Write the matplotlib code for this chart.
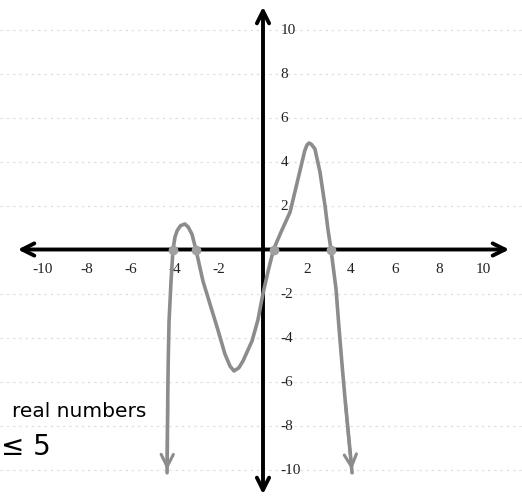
import matplotlib
matplotlib.use("Agg")
import matplotlib.pyplot as plt

# curve (x, y in graph units), left arrow end -> right arrow end
curve_x = [-4.36, -4.33, -4.31, -4.27, -4.18, -4.09, -4.0, -3.9, -3.75, -3.55,
           -3.4, -3.23, -3.05, -2.73, -2.41, -2.09, -1.73, -1.5, -1.32, -1.1,
           -0.91, -0.5, -0.23, 0.0, 0.24, 0.48, 0.8, 1.23, 1.59, 1.9, 2.0,
           2.09, 2.2, 2.36, 2.59, 2.82, 2.95, 3.09, 3.32, 3.45, 3.59, 3.73, 4.05]
curve_y = [-10.15, -6.8, -5.2, -3.25, -1.43, 0.0, 0.57, 0.86, 1.08, 1.16,
           1.02, 0.7, 0.0, -1.43, -2.48, -3.52, -4.75, -5.3, -5.52, -5.38,
           -5.07, -4.16, -3.2, -2.0, -0.95, 0.0, 0.75, 1.7, 3.2, 4.5, 4.75,
           4.84, 4.78, 4.57, 3.52, 1.98, 0.93, 0.0, -1.8, -3.5, -5.2, -6.8, -10.15]
zeros_x = [-4.09, -3.05, 0.48, 3.09]

x_ticks = [-10, -8, -6, -4, -2, 2, 4, 6, 8, 10]
y_ticks = [10, 8, 6, 4, 2, -2, -4, -6, -8, -10]

px = 22.0  # pixels per unit
ox, oy = 263, 250.5

fig = plt.figure(figsize=(5.22, 5.02), dpi=100)
ax = fig.add_axes([0, 0, 1, 1])
ax.set_xlim(-ox / px, (522 - ox) / px)
ax.set_ylim(-(502 - oy) / px, oy / px)
ax.axis("off")

# faint graph paper lines
for v in y_ticks:
    ax.axhline(v, color="#e0e0e0", lw=0.9, ls=(0, (2, 3)), zorder=0)

# axes with open arrowheads
arrow_kw = dict(arrowstyle="<->", lw=2.8, color="black", mutation_scale=22)
ax.annotate("", xy=((512 - ox) / px, 0), xytext=((15 - ox) / px, 0), arrowprops=arrow_kw)
ax.annotate("", xy=(0, (oy - 5) / px), xytext=(0, (oy - 498) / px), arrowprops=arrow_kw)

# tick labels
tfont = dict(family="Liberation Serif", fontsize=11, color="#222222")
for v in x_ticks:
    ax.text(v, -0.85, str(v), ha="center", va="center", **tfont)
for v in y_ticks:
    ax.text(0.8, v, str(v), ha="left", va="center", **tfont)

# the curve
gray = "#8c8c8c"
ax.plot(curve_x, curve_y, color=gray, lw=2.6, solid_capstyle="round",
        solid_joinstyle="round", zorder=3)
ax.plot(zeros_x, [0] * len(zeros_x), "o", color="#a0a0a0", ms=6, zorder=4)
end_kw = dict(arrowstyle="->", lw=2.2, color=gray, mutation_scale=22)
ax.annotate("", xy=(curve_x[0], curve_y[0]), xytext=(curve_x[1], curve_y[1]), arrowprops=end_kw)
ax.annotate("", xy=(curve_x[-1], curve_y[-1]), xytext=(curve_x[-2], curve_y[-2]), arrowprops=end_kw)

# handwritten notes (only the part visible in the scan)
ax.text((12 - ox) / px, (oy - 412) / px, "real numbers", ha="left",
        va="center", fontsize=14.5, color="black", family="DejaVu Sans")
ax.text((1 - ox) / px, (oy - 447) / px, "≤ 5", ha="left",
        va="center", fontsize=20, color="black", family="DejaVu Sans")

fig.savefig("out.png", dpi=100)
